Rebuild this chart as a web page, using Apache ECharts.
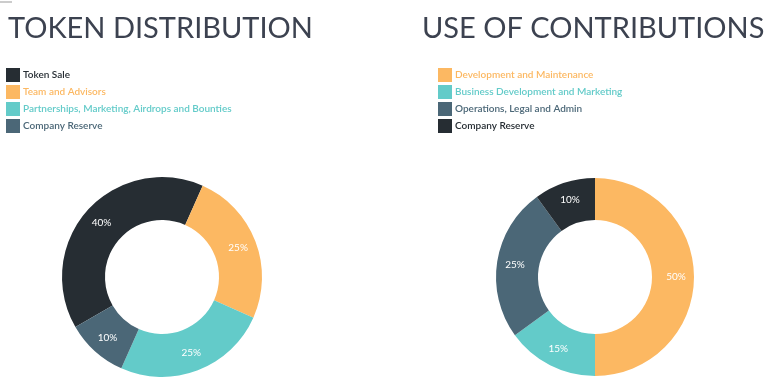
<!DOCTYPE html>
<html><head><meta charset="utf-8">
<script src="https://cdn.jsdelivr.net/npm/echarts@6/dist/echarts.min.js"></script>
<style>html,body{margin:0;padding:0;background:#fff}#c{width:771px;height:379px}</style>
</head><body><div id="c"></div>
<script>
const tokenNames = ["Token Sale", "Team and Advisors", "Partnerships, Marketing, Airdrops and Bounties", "Company Reserve"];
const tokenValues = [40, 25, 25, 10];
const tokenColors = ["#262d33", "#fcb862", "#63cbc9", "#4b6777"];
const useNames = ["Development and Maintenance", "Business Development and Marketing", "Operations, Legal and Admin", "Company Reserve"];
const useValues = [50, 15, 25, 10];
const useColors = ["#fcb862", "#63cbc9", "#4b6777", "#262d33"];

const font = "Lato";
function legendData(names, colors) {
  return names.map((n, i) => ({ name: n, itemStyle: { color: colors[i] }, textStyle: { color: colors[i] } }));
}
function pieData(names, values, colors) {
  return names.map((n, i) => ({ name: n, value: values[i], itemStyle: { color: colors[i] } }));
}
const chart = echarts.init(document.getElementById('c'), null, { renderer: 'canvas' });
chart.setOption({
  animation: false,
  title: [
    { text: "TOKEN DISTRIBUTION", left: 3, top: 9, textStyle: { fontFamily: font, fontWeight: 'normal', fontSize: 29, color: '#3c4250' } },
    { text: "USE OF CONTRIBUTIONS", left: 417, top: 9, textStyle: { fontFamily: font, fontWeight: 'normal', fontSize: 29, color: '#3c4250' } }
  ],
  legend: [
    { orient: 'vertical', left: 1, top: 63, itemWidth: 14, itemHeight: 14, itemGap: 3, icon: 'rect',
      selectedMode: false, textStyle: { fontFamily: font, fontSize: 10, fontWeight: 600, padding: [0,0,0,-2] },
      data: legendData(tokenNames, tokenColors) },
    { orient: 'vertical', left: 433, top: 63, itemWidth: 14, itemHeight: 14, itemGap: 3, icon: 'rect',
      selectedMode: false, textStyle: { fontFamily: font, fontSize: 10, fontWeight: 600, padding: [0,0,0,-2] },
      data: legendData(useNames, useColors) }
  ],
  graphic: [{ type: 'line', shape: { x1: 0, y1: 2, x2: 12, y2: 2 }, style: { stroke: '#999', lineWidth: 1 } }],
  series: [
    { type: 'pie', center: [162, 277], radius: [57, 100], startAngle: 210, clockwise: true,
      label: { show: true, position: 'inside', formatter: '{c}%', color: '#fff', fontSize: 10, fontFamily: font },
      labelLine: { show: false }, emphasis: { disabled: true },
      data: pieData(tokenNames, tokenValues, tokenColors) },
    { type: 'pie', center: [595, 277], radius: [57, 99], startAngle: 90, clockwise: true,
      label: { show: true, position: 'inside', formatter: '{c}%', color: '#fff', fontSize: 10, fontFamily: font },
      labelLine: { show: false }, emphasis: { disabled: true },
      data: pieData(useNames, useValues, useColors) }
  ]
});
</script></body></html>
